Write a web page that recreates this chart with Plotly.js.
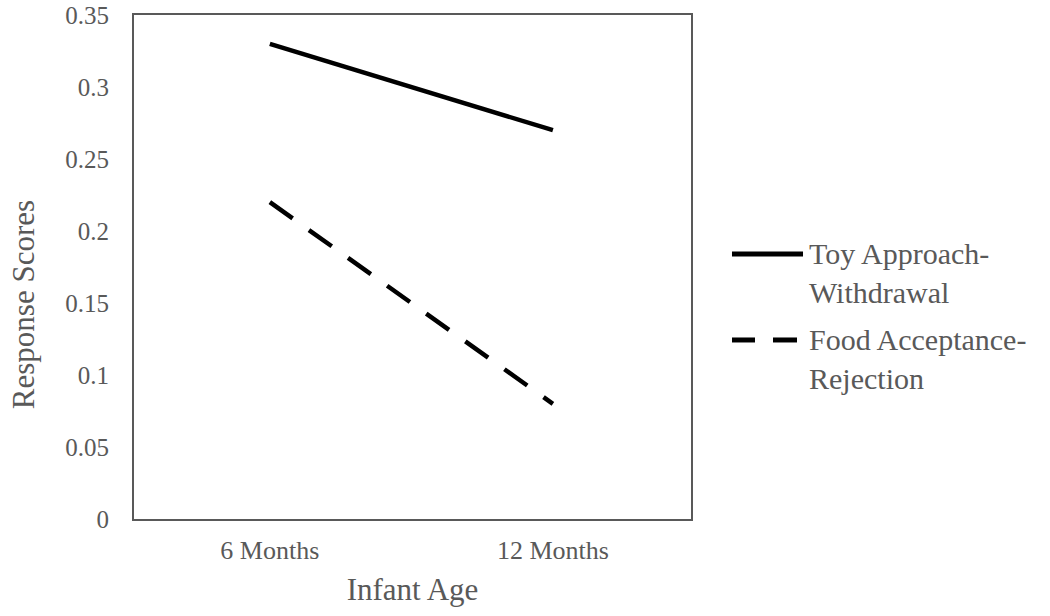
<!DOCTYPE html>
<html>
<head>
<meta charset="utf-8">
<script src="https://cdn.plot.ly/plotly-3.0.1.min.js"></script>
<style>html,body{margin:0;padding:0;background:#fff;}#chart{width:1050px;height:616px;}</style>
</head>
<body>
<div id="chart"></div>
<script>
const categories = ["6 Months", "12 Months"];
const toyApproach = [0.33, 0.27];
const foodAcceptance = [0.22, 0.08];
const seriesNames = ["Toy Approach-<br>Withdrawal", "Food Acceptance-<br>Rejection"];
const yTickVals = [0, 0.05, 0.1, 0.15, 0.2, 0.25, 0.3, 0.35];
const yTickText = ["0", "0.05", "0.1", "0.15", "0.2", "0.25", "0.3", "0.35"];
const xTitle = "Infant Age";
const yTitle = "Response Scores";

const FONT = "'Liberation Serif', 'Times New Roman', serif";
const GRAY = "#595959";

const traces = [
  {x: categories, y: toyApproach, type: "scatter", mode: "lines", name: seriesNames[0],
   line: {color: "#000", width: 4.5}, showlegend: false},
  {x: categories, y: foodAcceptance, type: "scatter", mode: "lines", name: seriesNames[1],
   line: {color: "#000", width: 4.5, dash: "28px,20px"}, showlegend: false}
];

const layout = {
  width: 1050, height: 616,
  margin: {l: 134, r: 359, t: 15, b: 97},
  paper_bgcolor: "#fff", plot_bgcolor: "#fff",
  font: {family: FONT, color: GRAY},
  showlegend: false,
  xaxis: {
    type: "category", range: [-0.48, 1.488],
    showgrid: false, zeroline: false, showline: true, mirror: true,
    linecolor: GRAY, linewidth: 2, ticks: "",
    tickfont: {size: 26, color: GRAY, family: FONT},
    ticklabelstandoff: 7,
    title: {text: xTitle, font: {size: 31, color: GRAY, family: FONT}, standoff: 14}
  },
  yaxis: {
    range: [0, 0.35], tickvals: yTickVals, ticktext: yTickText,
    showgrid: false, zeroline: false, showline: true, mirror: true,
    linecolor: GRAY, linewidth: 2, ticks: "",
    tickfont: {size: 25, color: GRAY, family: FONT},
    ticklabelstandoff: 18
  },
  annotations: [
    {text: yTitle, textangle: -90, xref: "paper", yref: "paper",
     x: -0.199, y: (519 - 305) / 504, xanchor: "center", yanchor: "middle",
     showarrow: false, font: {size: 31, color: GRAY, family: FONT}},
    {text: seriesNames[0], xref: "paper", yref: "paper", x: 1.208, y: 0.5635,
     xanchor: "left", yanchor: "top", align: "left", showarrow: false,
     font: {size: 30, color: GRAY, family: FONT}},
    {text: seriesNames[1], xref: "paper", yref: "paper", x: 1.208, y: 0.393,
     xanchor: "left", yanchor: "top", align: "left", showarrow: false,
     font: {size: 30, color: GRAY, family: FONT}}
  ],
  shapes: [
    {type: "line", xref: "paper", yref: "paper", x0: 1.0736, x1: 1.2011, y0: 0.5258, y1: 0.5258,
     line: {color: "#000", width: 5}},
    {type: "line", xref: "paper", yref: "paper", x0: 1.0736, x1: 1.1149, y0: 0.3552, y1: 0.3552,
     line: {color: "#000", width: 5}},
    {type: "line", xref: "paper", yref: "paper", x0: 1.1472, x1: 1.1903, y0: 0.3552, y1: 0.3552,
     line: {color: "#000", width: 5}}
  ]
};

Plotly.newPlot("chart", traces, layout, {displayModeBar: false, staticPlot: true});
</script>
</body>
</html>
